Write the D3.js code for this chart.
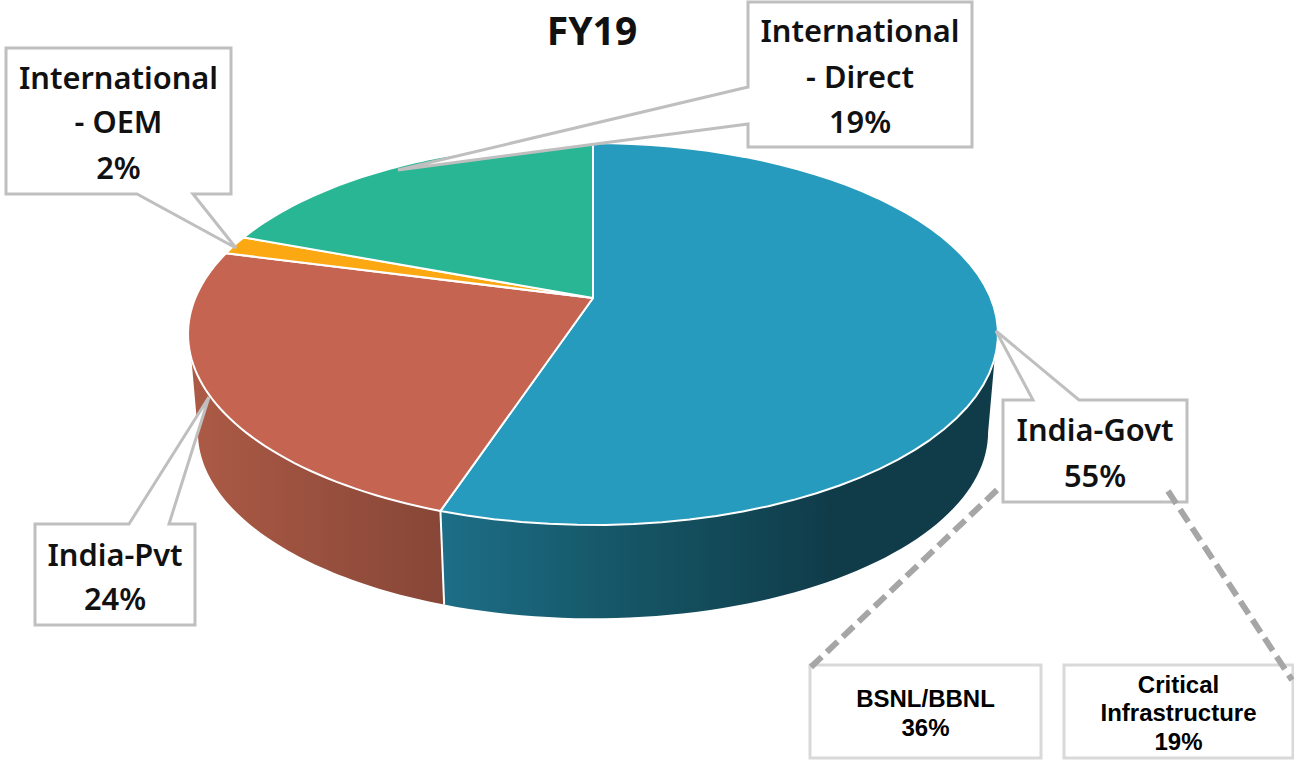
<!DOCTYPE html>
<html>
<head>
<meta charset="utf-8">
<script src="https://cdn.jsdelivr.net/npm/d3@7/dist/d3.min.js"></script>
<style>
html,body{margin:0;padding:0;background:#fff;overflow:hidden}
svg{display:block}
</style>
</head>
<body>
<svg id="c" width="1294" height="760"></svg>
<script>
const categories = ["India-Govt","India-Pvt","International - OEM","International - Direct"];
const values = [55.1,24,1.6,19.3];
const colors = ["#279bbd","#c46451","#fba813","#29b695"];
const title = "FY19";
const labelLines = [["India-Govt","55%"],["India-Pvt","24%"],["International","- OEM","2%"],["International","- Direct","19%"]];
const subCategories = [["BSNL/BBNL","36%"],["Critical","Infrastructure","19%"]];

const svg = d3.select("#c");
const defs = svg.append("defs");
const grad = (id,x1,x2,stops)=>{
  const g = defs.append("linearGradient").attr("id",id).attr("gradientUnits","userSpaceOnUse")
    .attr("x1",x1).attr("x2",x2).attr("y1",0).attr("y2",0);
  stops.forEach(s=>g.append("stop").attr("offset",s[0]).attr("stop-color",s[1]));
};
grad("wallBlue",442,830,[[0,"#1d6e87"],[0.5,"#155464"],[1,"#103c4a"]]);
grad("wallRed",195,443,[[0,"#ab5a45"],[1,"#874637"]]);

// perspective disc: unit circle mapped through a projective transform
const q = 0.1885;
const sx = d3.scaleLinear().domain([-1,1]).range([593-397.7,593+397.7]);
const sy = d3.scaleLinear().domain([-1,1]).range([298-184.2,298+184.2]);
const sxB = d3.scaleLinear().domain([-1,1]).range([593-388,593+388]);
const syB = d3.scaleLinear().domain([-1,1]).range([397-179.6,397+179.6]);
const proj = (t,fx,fy)=>{
  const u=Math.sin(t), v=-Math.cos(t), w=1-q*v;
  return [fx(u/w),fy(v/w)];
};
const top_ = t=>proj(t,sx,sy), bot = t=>proj(t,sxB,syB);
const samples = (a,b)=>d3.range(0,61).map(i=>a+(b-a)*i/60);
const line = d3.line();
const rad = d=>d*Math.PI/180;

const arcs = d3.pie().sort(null).value(d=>d)(values);

// side walls
const blue = arcs[0], red = arcs[1];
svg.append("path")
  .attr("d",line([...samples(rad(108),blue.endAngle).map(top_),...samples(blue.endAngle,rad(101)).map(bot)])+"Z")
  .attr("fill","url(#wallBlue)");
svg.append("path")
  .attr("d",line([...samples(red.startAngle,rad(252)).map(top_),...samples(rad(259),red.startAngle).map(bot)])+"Z")
  .attr("fill","url(#wallRed)");
svg.append("path").attr("d",line([top_(blue.endAngle),bot(blue.endAngle)]))
  .attr("stroke","#fff").attr("stroke-width",2).attr("fill","none");

// top face
svg.append("g").selectAll("path").data(arcs).join("path")
  .attr("d",d=>line([[593,298],...samples(d.startAngle,d.endAngle).map(top_)])+"Z")
  .attr("fill",(d,i)=>colors[i])
  .attr("stroke","#fff").attr("stroke-width",2).attr("stroke-linejoin","round");

// title
svg.append("text").attr("x",592).attr("y",45).attr("text-anchor","middle")
  .attr("font-family","'Noto Sans'").attr("font-weight",700).attr("font-size",39).attr("fill","#111").text(title);

// callouts
const callouts = [
  {i:0,box:[1003,400,1187,502],pts:[[1033,400],[996,331],[1079,400]],side:"top",ty:[441,487]},
  {i:1,box:[35,524,195,625],pts:[[129,524],[209,397],[169,524]],side:"top",ty:[566,610]},
  {i:2,box:[6,48,231,194],pts:[[137,194],[236,248],[193,194]],side:"bottom",ty:[89,133,179]},
  {i:3,box:[748,2,972,147],pts:[[748,87],[398,170],[748,124]],side:"left",ty:[42,88,133]}
];
const outline = c=>{
  const [x0,y0,x1,y1]=c.box, p=c.pts;
  if(c.side==="top") return [[x0,y0],p[0],p[1],p[2],[x1,y0],[x1,y1],[x0,y1]];
  if(c.side==="bottom") return [[x0,y0],[x1,y0],[x1,y1],p[2],p[1],p[0],[x0,y1]];
  return [[x0,y0],[x1,y0],[x1,y1],[x0,y1],p[2],p[1],p[0]];
};

const cg = svg.append("g").selectAll("g").data(callouts).join("g");
cg.append("path").attr("d",d=>line(outline(d))+"Z")
  .attr("fill","#fff").attr("stroke","#bfbfbf").attr("stroke-width",3);
cg.each(function(d){
  const sel=d3.select(this), cx=(d.box[0]+d.box[2])/2;
  labelLines[d.i].forEach((t,k)=>{
    sel.append("text").attr("x",cx).attr("y",d.ty[k]).attr("text-anchor","middle")
      .attr("font-family","'Noto Sans'").attr("font-weight",600).attr("font-size",30.8).attr("fill","#111").text(t);
  });
});

// sub-category boxes
const subBoxes = [{box:[810,665,1041,758],ty:[707,736]},{box:[1064,665,1293,758],ty:[693,721,750]}];
const sg = svg.append("g").selectAll("g").data(subBoxes).join("g");
sg.append("rect").attr("x",d=>d.box[0]).attr("y",d=>d.box[1])
  .attr("width",d=>d.box[2]-d.box[0]).attr("height",d=>d.box[3]-d.box[1])
  .attr("fill","#fff").attr("stroke","#d9d9d9").attr("stroke-width",3);
sg.each(function(d,i){
  const sel=d3.select(this), cx=(d.box[0]+d.box[2])/2;
  subCategories[i].forEach((t,k)=>{
    sel.append("text").attr("x",cx).attr("y",d.ty[k]).attr("text-anchor","middle")
      .attr("font-family","'Liberation Sans'").attr("font-weight",700).attr("font-size",24).attr("fill","#000").text(t);
  });
});

// dashed connectors from India-Govt to its breakdown boxes
const dashes = [[[997,490],[811,667]],[[1168,491],[1292,680]]];
svg.append("g").selectAll("path").data(dashes).join("path")
  .attr("d",d=>line(d)).attr("stroke","#a6a6a6").attr("stroke-width",6)
  .attr("stroke-dasharray","15 7").attr("fill","none");
</script>
</body>
</html>
